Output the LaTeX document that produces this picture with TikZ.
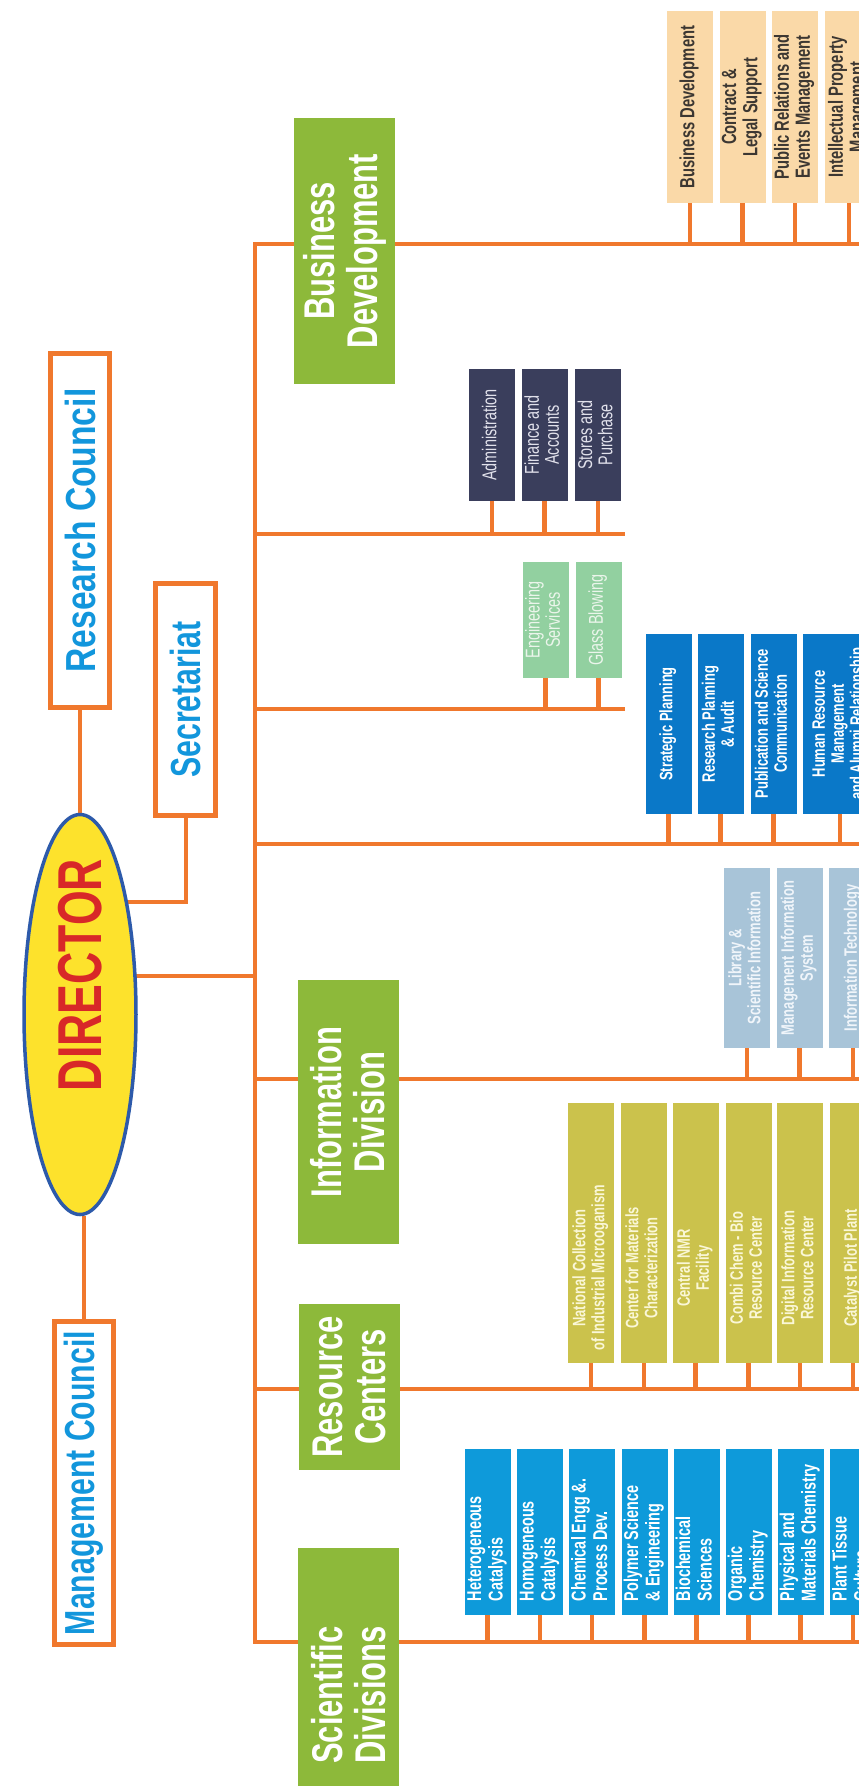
\documentclass[tikz,border=0pt]{standalone}
\usepackage{fontspec}
\newfontfamily\cond[FakeStretch=0.72]{Liberation Sans}
\newfontfamily\wcond[FakeStretch=0.80]{Liberation Sans}
\usetikzlibrary{shapes.geometric}

\pgfdeclarelayer{wires}
\pgfsetlayers{wires,main}

\definecolor{wirec}{RGB}{240,120,45}
\definecolor{councilc}{RGB}{18,150,220}
\definecolor{wingc}{RGB}{141,185,58}
\definecolor{tanc}{RGB}{250,217,168}
\definecolor{tantext}{RGB}{60,55,50}
\definecolor{navyc}{RGB}{58,62,92}
\definecolor{navytext}{RGB}{225,225,235}
\definecolor{engc}{RGB}{146,208,160}
\definecolor{engtext}{RGB}{235,245,235}
\definecolor{stratc}{RGB}{10,120,200}
\definecolor{infc}{RGB}{168,196,216}
\definecolor{inftext}{RGB}{240,245,250}
\definecolor{resc}{RGB}{203,194,76}
\definecolor{restext}{RGB}{250,247,215}
\definecolor{scic}{RGB}{14,154,218}
\definecolor{dirfill}{RGB}{253,226,44}
\definecolor{dirline}{RGB}{45,90,170}
\definecolor{dirtext}{RGB}{216,40,40}

\newcommand{\boxtext}[2][0pt]{\makebox[0pt]{\begin{tabular}{@{}c@{}}#2\end{tabular}\hspace*{#1}}}
\newcommand{\lefttext}[1]{\makebox[0pt][l]{\hspace*{-69pt}\begin{tabular}{@{}l@{}}#1\end{tabular}}}

\tikzset{
  wire/.style={draw=wirec, line width=4pt},
  stub/.style={draw=wirec, line width=4.5pt},
  council/.style={draw=wirec, line width=4.5pt, fill=white, rotate=90, inner sep=0pt,
    text=councilc, font=\cond\bfseries\fontsize{42}{44}\selectfont},
  wing/.style={fill=wingc, rotate=90, inner sep=0pt, text=white, align=center,
    minimum height=101pt, font=\cond\bfseries\fontsize{43}{43}\selectfont},
  unit/.style={rotate=90, inner sep=0pt, minimum height=46pt,
    font=\cond\bfseries\fontsize{18}{19}\selectfont},
  bdunit/.style={unit, fill=tanc, text=tantext, minimum width=192pt,
    font=\cond\bfseries\fontsize{20.5}{21}\selectfont},
  admunit/.style={unit, fill=navyc, text=navytext, minimum width=132pt,
    font=\cond\fontsize{20}{20}\selectfont},
  engunit/.style={unit, fill=engc, text=engtext, minimum width=116pt,
    font=\cond\fontsize{20}{20}\selectfont},
  spunit/.style={unit, fill=stratc, text=white, minimum width=180pt},
  infunit/.style={unit, fill=infc, text=inftext, minimum width=180pt},
  resunit/.style={unit, fill=resc, text=restext, minimum width=260pt},
  sciunit/.style={unit, fill=scic, text=white, minimum width=166pt,
    font=\cond\bfseries\fontsize{20}{21.5}\selectfont}
}

\begin{document}
\begin{tikzpicture}[x=1pt, y=-1pt]
  \useasboundingbox (0,0) rectangle (859,1786);
  \clip (0,0) rectangle (859,1786);

  % top of the chart
  \node[ellipse, draw=dirline, line width=3.5pt, fill=dirfill, rotate=90, inner sep=0pt,
    minimum width=400pt, minimum height=112pt, text=dirtext,
    font=\cond\bfseries\fontsize{62}{62}\selectfont] (director) at (80,1014.5)
    {\makebox[0pt]{\hspace*{79pt}DIRECTOR}};
  \node[council, minimum width=354pt, minimum height=59pt,
    font=\wcond\bfseries\fontsize{42}{44}\selectfont] (rcl) at (80,530.5) {Research Council};
  \node[council, minimum width=232pt, minimum height=60pt] (sec) at (185.5,699.5) {Secretariat};
  \node[council, minimum width=323pt, minimum height=59pt] (mcl) at (84,1483) {Management Council};

  % the four wings
  \node[wing, minimum width=266pt] (bdv) at (344.5,251) {Business\\Development};
  \node[wing, minimum width=264pt] (inf) at (348,1112) {Information\\Division};
  \node[wing, minimum width=166pt] (res) at (349,1387) {Resource\\Centers};
  \node[wing, minimum width=294pt] (sci) at (348.5,1695) {Scientific\\Divisions};

  \coordinate (tBD) at (255,244);
  \coordinate (tAdm) at (255,534);
  \coordinate (tEng) at (255,709);
  \coordinate (tSP) at (255,844);
  \coordinate (tDir) at (255,976);
  \coordinate (tInf) at (255,1079);
  \coordinate (tRes) at (255,1389);
  \coordinate (tSci) at (255,1642);
  \coordinate (eBD) at (870,244);
  \coordinate (eAdm) at (625,534);
  \coordinate (eEng) at (625,709);
  \coordinate (eSP) at (870,844);
  \coordinate (eInf) at (870,1079);
  \coordinate (eRes) at (870,1389);
  \coordinate (eSci) at (870,1642);

  % business development
  \node[bdunit] (bd1) at (690,107) {\boxtext{Business Development}};
  \node[bdunit] (bd2) at (742.5,107) {\boxtext{Contract \&\\Legal Support}};
  \node[bdunit] (bd3) at (795,107) {\boxtext{Public Relations and\\Events Management}};
  \node[bdunit, minimum height=48pt] (bd4) at (849,107) {\boxtext{Intellectual Property\\Management}};

  % administration
  \node[admunit] (adm1) at (492,435) {\boxtext{Administration}};
  \node[admunit] (adm2) at (544.5,435) {\boxtext{Finance and\\Accounts}};
  \node[admunit] (adm3) at (598,435) {\boxtext{Stores and\\Purchase}};

  \node[engunit] (eng1) at (545.5,620) {\boxtext{Engineering\\Services}};
  \node[engunit] (eng2) at (598.5,620) {\boxtext{Glass Blowing}};

  % planning
  \node[spunit] (sp1) at (668.5,724) {\boxtext{Strategic Planning}};
  \node[spunit] (sp2) at (720.5,724) {\boxtext{Research Planning\\\& Audit}};
  \node[spunit] (sp3) at (773.5,724) {\boxtext{Publication and Science\\Communication}};
  \node[spunit, minimum height=74pt] (sp4) at (840,724)
    {\boxtext{Human Resource\\Management\\and Alumni Relationship}};

  % information division
  \node[infunit] (inf1) at (747,958) {\boxtext{Library \&\\Scientific Information}};
  \node[infunit] (inf2) at (799.5,958) {\boxtext{Management Information\\System}};
  \node[infunit, minimum height=48pt] (inf3) at (853,958) {\boxtext{Information Technology}};

  % resource centers
  \node[resunit] (res1) at (591,1233) {\boxtext[70pt]{National Collection\\of Industrial Microoganism}};
  \node[resunit] (res2) at (644,1233) {\boxtext[70pt]{Center for Materials\\Characterization}};
  \node[resunit] (res3) at (695.5,1233) {\boxtext[70pt]{Central NMR\\Facility}};
  \node[resunit] (res4) at (748.5,1233) {\boxtext[70pt]{Combi Chem - Bio\\Resource Center}};
  \node[resunit] (res5) at (800,1233) {\boxtext[70pt]{Digital Information\\Resource Center}};
  \node[resunit] (res6) at (853,1233) {\boxtext[70pt]{Catalyst Pilot Plant}};

  % scientific divisions
  \node[sciunit] (sci1) at (487.5,1532) {\lefttext{Heterogeneous\\Catalysis}};
  \node[sciunit] (sci2) at (540,1532) {\lefttext{Homogeneous\\Catalysis}};
  \node[sciunit] (sci3) at (592,1532) {\lefttext{Chemical Engg \&.\\Process Dev.}};
  \node[sciunit] (sci4) at (644.5,1532) {\lefttext{Polymer Science\\\& Engineering}};
  \node[sciunit] (sci5) at (696.5,1532) {\lefttext{Biochemical\\Sciences}};
  \node[sciunit] (sci6) at (748.5,1532) {\lefttext{Organic\\Chemistry}};
  \node[sciunit] (sci7) at (800.5,1532) {\lefttext{Physical and\\Materials Chemistry}};
  \node[sciunit] (sci8) at (853,1532) {\lefttext{Plant Tissue\\Culture}};

  \begin{pgfonlayer}{wires}
    \draw[wire] (rcl.west) -- (rcl.west |- director.east);
    \draw[wire] (mcl.east) -- (mcl.east |- director.west);
    \draw[wire] (sec.west) |- (director.center |- 0,902);
    \draw[wire] (director.center |- tDir) -- (tDir);
    \draw[wire] (eBD) -- (tBD) -- (tSci) -- (eSci);
    \draw[wire] (tAdm) -- (eAdm) (tEng) -- (eEng) (tSP) -- (eSP)
      (tInf) -- (eInf) (tRes) -- (eRes);

    \draw[stub] (bd1.west) -- (bd1.west |- tBD) (bd2.west) -- (bd2.west |- tBD)
      (bd3.west) -- (bd3.west |- tBD) (bd4.west) -- (bd4.west |- tBD);
    \draw[stub] (adm1.west) -- (adm1.west |- tAdm) (adm2.west) -- (adm2.west |- tAdm)
      (adm3.west) -- (adm3.west |- tAdm);
    \draw[stub] (eng1.west) -- (eng1.west |- tEng) (eng2.west) -- (eng2.west |- tEng);
    \draw[stub] (sp1.west) -- (sp1.west |- tSP) (sp2.west) -- (sp2.west |- tSP)
      (sp3.west) -- (sp3.west |- tSP) (sp4.west) -- (sp4.west |- tSP);
    \draw[stub] (inf1.west) -- (inf1.west |- tInf) (inf2.west) -- (inf2.west |- tInf)
      (inf3.west) -- (inf3.west |- tInf);
    \draw[stub] (res1.west) -- (res1.west |- tRes) (res2.west) -- (res2.west |- tRes)
      (res3.west) -- (res3.west |- tRes) (res4.west) -- (res4.west |- tRes)
      (res5.west) -- (res5.west |- tRes) (res6.west) -- (res6.west |- tRes);
    \draw[stub] (sci1.west) -- (sci1.west |- tSci) (sci2.west) -- (sci2.west |- tSci)
      (sci3.west) -- (sci3.west |- tSci) (sci4.west) -- (sci4.west |- tSci)
      (sci5.west) -- (sci5.west |- tSci) (sci6.west) -- (sci6.west |- tSci)
      (sci7.west) -- (sci7.west |- tSci) (sci8.west) -- (sci8.west |- tSci);
  \end{pgfonlayer}
\end{tikzpicture}
\end{document}
